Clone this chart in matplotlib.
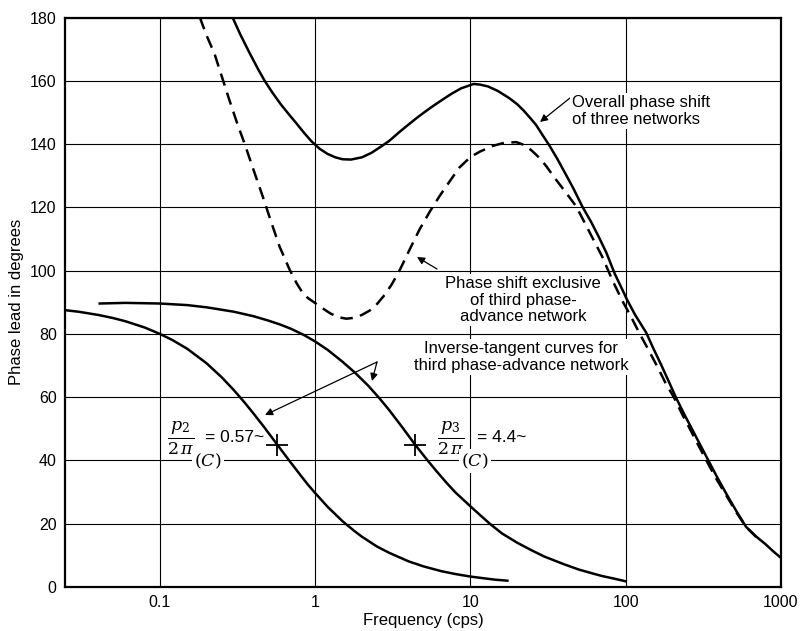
import matplotlib
matplotlib.use("Agg")
import matplotlib.pyplot as plt
import numpy as np

plt.rcParams['font.family'] = ['Liberation Sans', 'DejaVu Sans']
plt.rcParams['mathtext.fontset'] = 'dejavuserif'

# Overall phase shift of three networks (solid)
overall_f = [0.294, 0.33, 0.38, 0.43, 0.473, 0.53, 0.6, 0.68, 0.75, 0.85, 0.95,
             1.07, 1.2, 1.35, 1.5, 1.7, 2.0, 2.3, 2.6, 3.0, 3.47, 4.0, 4.5, 5.0,
             5.7, 6.5, 7.5, 8.7, 10.5, 11.5, 13.0, 15.0, 17.8, 20, 22, 24.5, 26.5,
             29, 32, 36, 40, 46, 52.5, 60, 67, 75, 85, 93, 102, 115, 135.5, 150,
             170, 190, 211, 240, 270, 305, 344, 390, 450, 520, 596, 690, 796, 890,
             1000]
overall_deg = [180, 174.6, 168.6, 163.6, 160, 156.3, 152.6, 149.3, 146.8, 143.5, 140.8,
               138.5, 136.9, 135.8, 135.2, 135.1, 135.8, 137.2, 138.9, 141.0, 143.7,
               146.2, 148.2, 149.9, 151.9, 153.8, 155.8, 157.6, 159.0, 158.8, 158.2,
               156.8, 154.5, 152.6, 150.6, 148.0, 146.0, 143.0, 139.8, 135.6, 131.5,
               126.0, 120.3, 115.3, 110.7, 105.7, 99.0, 95.0, 90.8, 86.0, 80.4, 75.6,
               70.0, 64.8, 59.8, 54.3, 49.5, 44.5, 39.6, 34.5, 29.0, 23.7, 19.0,
               16.0, 13.5, 11.3, 9.2]

# Phase shift exclusive of third phase-advance network (dashed)
excl_f = [0.181, 0.2, 0.225, 0.25, 0.28, 0.315, 0.352, 0.4, 0.46, 0.52, 0.59, 0.685,
          0.76, 0.83, 0.9, 0.99, 1.1, 1.25, 1.4, 1.59, 1.8, 2.0, 2.25, 2.48, 2.8,
          3.1, 3.47, 4.0, 4.7, 5.5, 6.3, 7.3, 8.5, 10, 11.5, 13.9, 16.5, 19.8,
          22.5, 25, 28, 30.8, 35, 40, 48, 58, 70.6, 82, 95, 108, 122, 140, 160,
          180, 205, 230, 260, 295, 334, 385, 450, 520, 596, 692]
excl_deg = [180, 174.3, 168.5, 161.5, 154, 146.5, 140, 132, 123.4, 115.5, 107.6,
            100.3, 96.0, 93.0, 91.3, 89.9, 88.3, 86.5, 85.3, 84.8, 85.1, 86.0, 87.4,
            89.2, 92.3, 95.5, 99.7, 106.0, 113.0, 118.8, 123.4, 128.0, 132.6, 135.9,
            137.6, 139.4, 140.4, 140.6, 139.6, 137.8, 135.5, 133.0, 129.2, 125.5,
            120.3, 112.5, 104.4, 97.0, 90.5, 85.5, 80.4, 75.0, 69.6, 64.6, 59.8,
            54.8, 49.8, 44.6, 39.6, 34.0, 28.5, 23.3, 19.0, 15.8]

# Inverse-tangent curve, p2/2pi = 0.57 cps
p2_f = [0.0245, 0.03, 0.04, 0.05, 0.06, 0.08, 0.1, 0.12, 0.15, 0.2, 0.25, 0.3,
        0.35, 0.4, 0.47, 0.57, 0.68, 0.8, 0.9, 1.0, 1.2, 1.5, 1.8, 2.0, 2.5, 3.0,
        4.0, 5.0, 6.5, 8.0, 10, 12, 14.5, 17.3]
p2_deg = [87.5, 87.0, 86.0, 85.0, 84.0, 82.0, 80.0, 78.1, 75.3, 70.7, 66.3, 62.2,
          58.4, 54.9, 50.5, 45.0, 40.0, 35.5, 32.3, 29.7, 25.4, 20.8, 17.6, 15.9,
          12.8, 10.8, 8.1, 6.5, 5.0, 4.1, 3.3, 2.8, 2.3, 2.0]

# Inverse-tangent curve, p3/2pi = 4.4 cps
p3_f = [0.041, 0.06, 0.1, 0.15, 0.2, 0.3, 0.4, 0.5, 0.6, 0.7, 0.85, 1.0, 1.2, 1.5,
        1.8, 2.2, 2.6, 3.0, 3.6, 4.4, 5.2, 6.0, 7.0, 8.0, 10, 11.5, 13.4, 16, 20,
        25, 30, 40, 50, 60, 70, 85, 100]
p3_deg = [89.6, 89.8, 89.6, 89.1, 88.4, 87.0, 85.6, 84.2, 82.9, 81.6, 79.6, 77.6,
          75.0, 71.2, 67.8, 63.6, 59.6, 55.9, 50.8, 45.0, 40.5, 36.8, 33.0, 29.9,
          25.5, 22.8, 19.9, 16.9, 14.0, 11.5, 9.6, 7.2, 5.5, 4.4, 3.5, 2.6, 1.8]

break_f = [0.57, 4.4]
break_deg = [45, 45]

x_ticks = [0.1, 1, 10, 100, 1000]
x_labels = ['0.1', '1', '10', '100', '1000']
y_ticks = list(range(0, 181, 20))

fig = plt.figure(figsize=(8.02, 6.31), dpi=100)
ax = fig.add_axes([65 / 802, 1 - 587 / 631, (781 - 65) / 802, (587 - 17.5) / 631])

ax.set_xscale('log')
ax.set_xlim(0.0245, 1000)
ax.set_ylim(0, 180)
ax.set_xticks(x_ticks)
ax.set_xticklabels(x_labels)
ax.set_yticks(y_ticks)
ax.xaxis.set_minor_locator(matplotlib.ticker.NullLocator())
ax.tick_params(length=0, labelsize=11.5, pad=6)
ax.grid(True, color='black', lw=0.8)
ax.set_axisbelow(True)
for s in ax.spines.values():
    s.set_linewidth(1.6)

lw = 1.8
ax.plot(overall_f, overall_deg, color='black', lw=lw)
ax.plot(excl_f, excl_deg, color='black', lw=lw, ls=(0, (5, 3)))
ax.plot(p2_f, p2_deg, color='black', lw=lw)
ax.plot(p3_f, p3_deg, color='black', lw=lw)
ax.plot(break_f, break_deg, ls='none', marker='+', ms=16, mew=1.3, color='black')

ax.set_xlabel('Frequency (cps)', fontsize=12, labelpad=2)
ax.set_ylabel('Phase lead in degrees', fontsize=12, labelpad=4)


def fp(x, y):
    # figure pixels measured from the top-left corner
    return (x, 631 - y)


box = dict(facecolor='white', edgecolor='none', pad=1.5)
arrow = dict(arrowstyle='-|>', color='black', lw=0.9, mutation_scale=11,
             shrinkA=0, shrinkB=0)

fig.text(572 / 802, 1 - 111 / 631, 'Overall phase shift\nof three networks',
         fontsize=12, ha='left', va='center', linespacing=1.1, bbox=box)
ax.annotate('', xy=fp(540, 122), xycoords='figure pixels',
            xytext=fp(570, 98), textcoords='figure pixels', arrowprops=arrow)

fig.text(523 / 802, 1 - 300 / 631, 'Phase shift exclusive\nof third phase-\nadvance network',
         fontsize=12, ha='center', va='center', linespacing=1.1, bbox=box)
ax.annotate('', xy=fp(417, 257), xycoords='figure pixels',
            xytext=fp(437, 269), textcoords='figure pixels', arrowprops=arrow)

fig.text(521 / 802, 1 - 357 / 631, 'Inverse-tangent curves for\nthird phase-advance network',
         fontsize=12, ha='center', va='center', linespacing=1.1, bbox=box)
ax.annotate('', xy=fp(372, 381), xycoords='figure pixels',
            xytext=fp(377, 362), textcoords='figure pixels', arrowprops=arrow)
ax.annotate('', xy=fp(265, 415), xycoords='figure pixels',
            xytext=fp(377, 362), textcoords='figure pixels', arrowprops=arrow)

# break-frequency labels
fig.text(181 / 802, 1 - 438 / 631, r'$\frac{p_2}{2\,\pi}$', fontsize=18,
         ha='center', va='center')
fig.text(205 / 802, 1 - 438 / 631, '= 0.57~', fontsize=12.5, ha='left', va='center')
fig.text(194 / 802, 1 - 461 / 631, r'$(C)$', fontsize=12.5, ha='left', va='center',
         bbox=box)

fig.text(451 / 802, 1 - 438 / 631, r'$\frac{p_3}{2\,\pi}$', fontsize=18,
         ha='center', va='center')
fig.text(477 / 802, 1 - 438 / 631, '= 4.4~', fontsize=12.5, ha='left', va='center')
fig.text(461 / 802, 1 - 461 / 631, r'$(C)$', fontsize=12.5, ha='left', va='center',
         bbox=box)

fig.savefig('out.png', dpi=100)
